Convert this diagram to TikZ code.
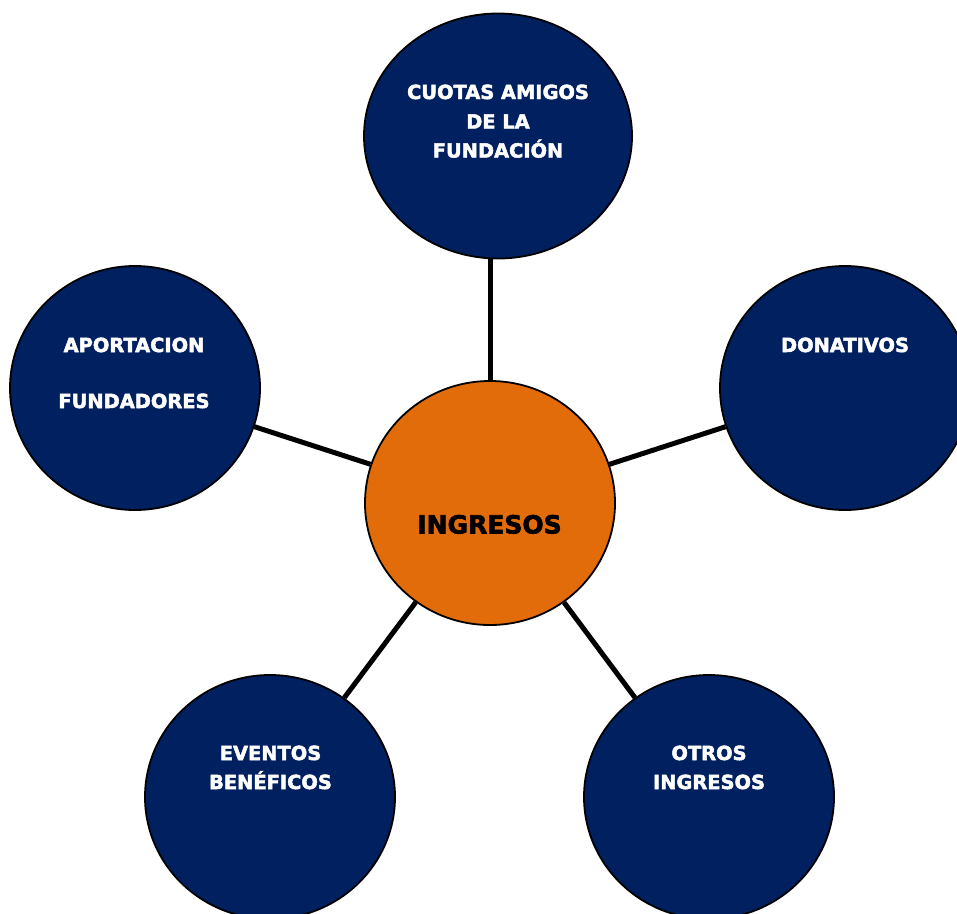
\documentclass[tikz,border=0pt]{standalone}
\usepackage{fontspec}
\setmainfont{DejaVu Sans}[BoldFeatures={FakeBold=2.5}]
\usetikzlibrary{shapes.geometric}
\definecolor{navy}{HTML}{002060}
\definecolor{orng}{HTML}{E36C0A}
\begin{document}
\begin{tikzpicture}[x=1pt,y=-1pt,
  bubble/.style={ellipse,draw=black,line width=1.8pt,fill=navy,inner sep=0pt,minimum width=250pt,minimum height=244pt},
  hub/.style={bubble,fill=orng},
  lbl/.style={anchor=base,inner sep=0pt,text=white,font=\bfseries\fontsize{19.4}{23}\selectfont},
  hublbl/.style={lbl,text=black,font=\bfseries\fontsize{25}{30}\selectfont},
  link/.style={line width=5pt}]
\useasboundingbox (0,0) rectangle (957,913);
\node[bubble,minimum width=268pt,minimum height=245pt] (cuotas) at (498,136) {};
\node[bubble] (apor) at (135,388) {};
\node[bubble] (dona) at (845,388) {};
\node[bubble] (even) at (270,797) {};
\node[bubble] (otros) at (709,797) {};
\node[hub] (ing) at (490,503) {};
\draw[link] (ing.north) -- (ing.north |- cuotas.south);
\draw[link] (ing) -- (apor);
\draw[link] (ing) -- (dona);
\draw[link] (ing) -- (even);
\draw[link] (ing) -- (otros);
\node[lbl] (c1) at (498,99) {CUOTAS AMIGOS};
\node[lbl] (c2) at (498,128.5) {DE LA};
\node[lbl] (c3) at (498,157.5) {FUNDACIÓN};
\node[lbl] (a1) at (134,352) {APORTACION};
\node[lbl] (a2) at (134,408) {FUNDADORES};
\node[lbl] (d1) at (845,352) {DONATIVOS};
\node[hublbl] (i1) at (489.5,533.5) {INGRESOS};
\node[lbl] (e1) at (270.5,760) {EVENTOS};
\node[lbl] (e2) at (270.5,789) {BENÉFICOS};
\node[lbl] (o1) at (709,760) {OTROS};
\node[lbl] (o2) at (709,789) {INGRESOS};
\end{tikzpicture}
\end{document}
